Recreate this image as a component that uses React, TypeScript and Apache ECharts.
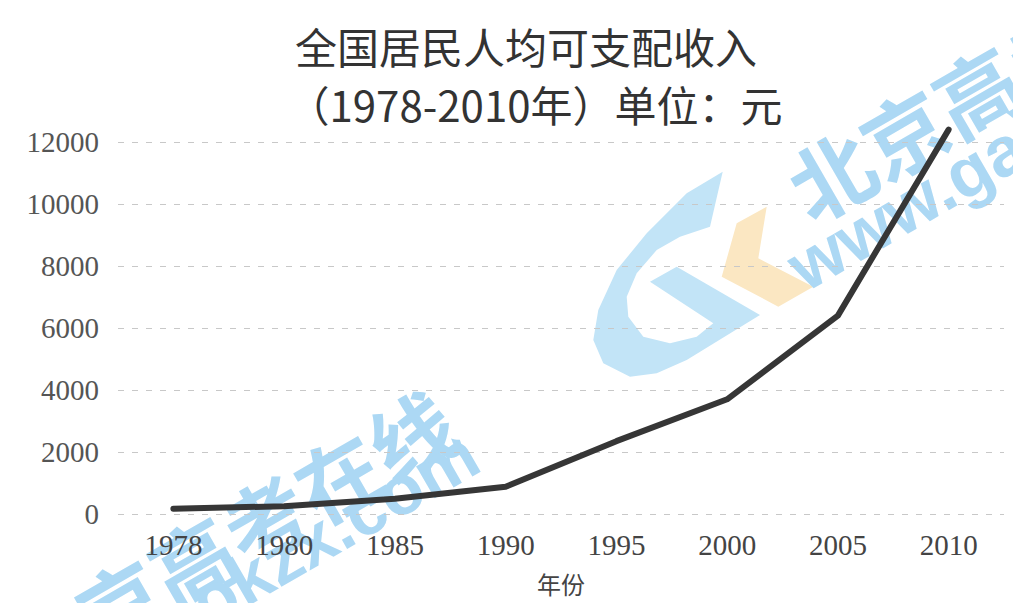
import React, { useEffect, useRef } from "react";
import * as echarts from "echarts";

const years = ["1978", "1980", "1985", "1990", "1995", "2000", "2005", "2010"];
const income = [171, 250, 490, 880, 2350, 3700, 6400, 12400];
const yTicks = { min: 0, max: 12000, interval: 2000 };
const titleLines = ["全国居民人均可支配收入", "（1978-2010年）单位：元"];
const xAxisName = "年份";
const watermarkCn = "北京高考在线";
const watermarkEn = "www.gaokzx.com";

const WM_BLUE = "#acd8f4";
const ANGLE = (30 * Math.PI) / 180;

const gShape = [
  [722.7, 171.7], [686.7, 193.3], [646.7, 233.3], [616.7, 270], [598.3, 310],
  [593.3, 340], [603.3, 363.3], [630, 376.7], [656.7, 373.3], [686.7, 360],
  [760, 315], [676.7, 266.7], [650, 281.7], [713.3, 323.3], [696.7, 336.7],
  [670, 343.3], [643.3, 336.7], [628.3, 316.7], [626.7, 296.7], [636.7, 273.3],
  [656.7, 250], [680, 236.7], [710, 226.7],
];
const kShape = [
  [766.7, 206.7], [736.7, 223.3], [721.7, 276.7], [778.3, 306.7], [813.3, 286.7], [758.3, 258.3],
];

export default function App() {
  const ref = useRef<HTMLDivElement>(null);
  useEffect(() => {
    if (!ref.current) return;
    const chart = echarts.init(ref.current, null, { renderer: "svg" });
    const cnStyle = {
      fill: WM_BLUE,
      fontSize: 84,
      fontWeight: "bold",
      fontFamily: "Noto Sans CJK SC",
      align: "center",
      verticalAlign: "middle",
    };
    const enStyle = {
      fill: WM_BLUE,
      fontSize: 70,
      fontWeight: "bold",
      fontFamily: "Liberation Sans",
      align: "center",
      verticalAlign: "middle",
    };
    chart.setOption({
      animation: false,
      backgroundColor: "#ffffff",
      grid: { left: 118, right: 9, top: 142, bottom: 89, containLabel: false },
      xAxis: {
        type: "category",
        data: years,
        boundaryGap: true,
        z: 5,
        axisLine: { show: false },
        axisTick: { show: false },
        axisLabel: {
          margin: 16,
          fontSize: 29,
          fontFamily: "Liberation Serif",
          color: "#444",
        },
        name: xAxisName,
        nameLocation: "middle",
        nameGap: 57,
        nameTextStyle: { fontSize: 24, fontFamily: "Noto Sans CJK SC", color: "#444" },
      },
      yAxis: {
        type: "value",
        min: yTicks.min,
        max: yTicks.max,
        interval: yTicks.interval,
        z: 5,
        axisLine: { show: false },
        axisTick: { show: false },
        axisLabel: {
          margin: 19,
          fontSize: 29,
          fontFamily: "Liberation Serif",
          color: "#555",
          formatter: (v: number) => String(v),
        },
        splitLine: { lineStyle: { color: "#c8c8c8", type: [6, 8], width: 1 } },
      },
      series: [
        {
          type: "line",
          data: income,
          z: 6,
          clip: false,
          symbol: "none",
          showSymbol: false,
          lineStyle: { color: "#363636", width: 6, cap: "round", join: "round" },
        },
      ],
      graphic: [
        { type: "polygon", z: -10, shape: { points: gShape }, style: { fill: "#c2e4f7" } },
        { type: "polygon", z: -10, shape: { points: kShape }, style: { fill: "#fbe7c2" } },
        { type: "text", x: 1012, y: 68, rotation: ANGLE, z: -10, style: { ...cnStyle, text: watermarkCn } },
        { type: "text", x: 1045, y: 127, rotation: ANGLE, z: -10, style: { ...enStyle, text: watermarkEn } },
        { type: "text", x: 228, y: 538, rotation: ANGLE, z: -10, style: { ...cnStyle, text: watermarkCn } },
        { type: "text", x: 221, y: 594, rotation: ANGLE, z: -10, style: { ...enStyle, text: watermarkEn } },
        {
          type: "text",
          x: 526,
          y: 45,
          z: 10,
          style: {
            text: titleLines[0],
            fontSize: 42,
            fontFamily: "Noto Sans CJK SC",
            fill: "#333",
            align: "center",
            verticalAlign: "middle",
          },
        },
        {
          type: "text",
          x: 535,
          y: 103,
          z: 10,
          style: {
            text: titleLines[1],
            fontSize: 42,
            fontFamily: "Noto Sans CJK SC",
            fill: "#333",
            align: "center",
            verticalAlign: "middle",
          },
        },
      ],
    });
    return () => chart.dispose();
  }, []);
  return (
    <div
      ref={ref}
      style={{ position: "absolute", left: 0, top: 0, width: 1013, height: 603, background: "#fff" }}
    />
  );
}
